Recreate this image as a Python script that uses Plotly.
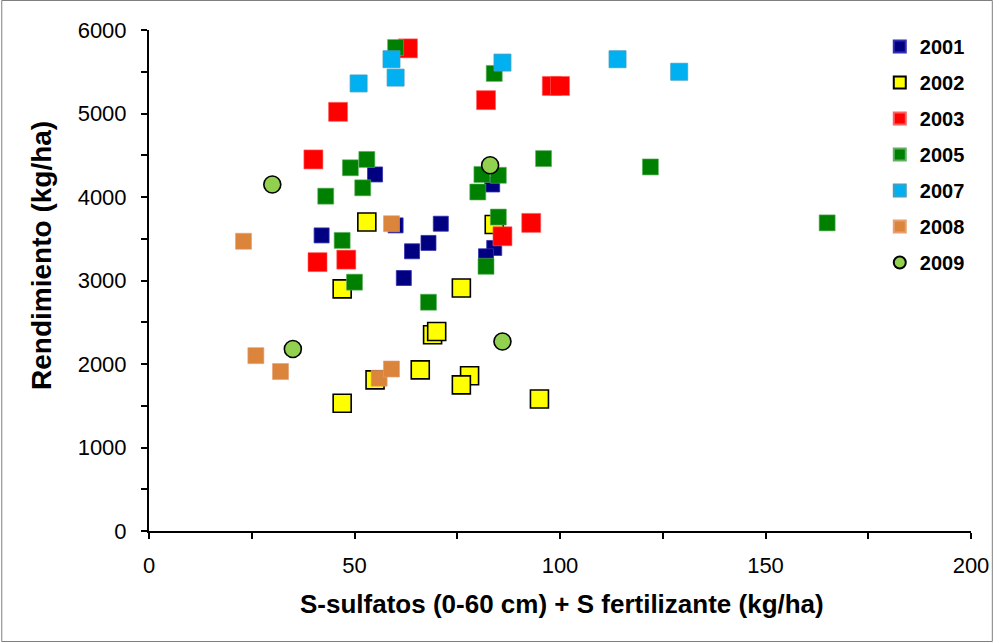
import plotly.graph_objects as go

# ---- data ----
x2001 = [42, 55, 60, 71, 68, 64, 62, 83.5, 84, 82]
y2001 = [3540, 4270, 3660, 3680, 3450, 3350, 3030, 4150, 3390, 3290]

x2002 = [47, 53, 84, 76, 69, 70, 66, 55, 47, 78, 76, 95]
y2002 = [2900, 3700, 3670, 2910, 2350, 2390, 1930, 1810, 1530, 1860, 1750, 1580]

x2003 = [46, 63, 40, 41, 48, 82, 98, 100, 93, 86]
y2003 = [5020, 5780, 4450, 3220, 3250, 5160, 5330, 5330, 3690, 3530]

x2005 = [60, 49, 53, 52, 43, 47, 50, 68, 84, 96, 122, 81, 85, 80, 85, 82, 165]
y2005 = [5790, 4350, 4450, 4110, 4010, 3480, 2980, 2740, 5480, 4460, 4360, 4270, 4260, 4060, 3760, 3170, 3690]

x2007 = [51, 59, 60, 86, 114, 129]
y2007 = [5360, 5650, 5430, 5610, 5650, 5500]

x2008 = [23, 59, 26, 32, 56, 59]
y2008 = [3470, 3680, 2100, 1910, 1830, 1940]

x2009 = [30, 35, 83, 86]
y2009 = [4150, 2180, 4380, 2270]

series = [
    ("2001", x2001, y2001, dict(symbol="square", size=15, color="#000080", line=dict(color="#3030B0", width=0.8))),
    ("2002", x2002, y2002, dict(symbol="square", size=18, color="#FFFF00", line=dict(color="#000000", width=1.6))),
    ("2003", x2003, y2003, dict(symbol="square", size=19, color="#FF0000", line=dict(color="#FF6060", width=0.6))),
    ("2005", x2005, y2005, dict(symbol="square", size=16, color="#008000", line=dict(color="#60B060", width=0.6))),
    ("2007", x2007, y2007, dict(symbol="square", size=17, color="#00B0F0", line=dict(color="#40A0C0", width=0.8))),
    ("2008", x2008, y2008, dict(symbol="square", size=16, color="#DA843C", line=dict(color="#E8A070", width=0.6))),
    ("2009", x2009, y2009, dict(symbol="circle", size=17, color="#92D050", line=dict(color="#000000", width=1.6))),
]

fig = go.Figure()
for name, xs, ys, mk in series:
    fig.add_trace(go.Scatter(x=xs, y=ys, mode="markers", name=name, marker=mk,
                             legendgroup=name, hoverinfo="x+y+name"))

W, H = 1001, 643
L, R, T, B = 149, 23, 30, 112
pw, ph = W - L - R, H - T - B

def px_x(p):
    return (p - L) / pw

def px_y(p):
    return (H - B - p) / ph

font_family = "Liberation Sans, Arial, sans-serif"

fig.update_layout(
    width=W, height=H,
    margin=dict(l=L, r=R, t=T, b=B, pad=0),
    paper_bgcolor="white", plot_bgcolor="white",
    font=dict(family=font_family, color="black"),
    showlegend=True,
    legend=dict(
        x=px_x(886), y=px_y(27), xanchor="left", yanchor="top",
        font=dict(size=20, family=font_family, color="black", weight="bold"),
        itemsizing="constant", tracegroupgap=7, bgcolor="rgba(0,0,0,0)",
    ),
    xaxis=dict(
        range=[0, 200], dtick=50, tick0=0, showgrid=False, zeroline=False,
        showline=True, linecolor="black", linewidth=2,
        ticks="outside", ticklen=6, tickwidth=1.5, tickcolor="black",
        ticklabelstandoff=8,
        tickfont=dict(size=22, family=font_family, color="black"),
        minor=dict(dtick=25, ticks="outside", ticklen=6, tickwidth=1.5, tickcolor="black", showgrid=False),
        fixedrange=True,
    ),
    yaxis=dict(
        range=[0, 6000], dtick=1000, tick0=0, showgrid=False, zeroline=False,
        showline=True, linecolor="black", linewidth=2,
        ticks="outside", ticklen=6, tickwidth=1.5, tickcolor="black",
        ticklabelstandoff=10,
        tickfont=dict(size=22, family=font_family, color="black"),
        minor=dict(dtick=500, ticks="outside", ticklen=6, tickwidth=1.5, tickcolor="black", showgrid=False),
        fixedrange=True,
    ),
    annotations=[
        dict(text="S-sulfatos (0-60 cm) + S fertilizante (kg/ha)", xref="paper", yref="paper",
             x=px_x(566), y=px_y(604), xanchor="center", yanchor="middle", showarrow=False,
             font=dict(size=26, family=font_family, color="black", weight="bold")),
        dict(text="Rendimiento (kg/ha)", xref="paper", yref="paper",
             x=px_x(40), y=px_y(255), xanchor="center", yanchor="middle", showarrow=False,
             textangle=-90,
             font=dict(size=28, family=font_family, color="black", weight="bold")),
    ],
    shapes=[
        dict(type="rect", xref="paper", yref="paper",
             x0=px_x(0.5), x1=px_x(W - 1.5), y0=px_y(H - 1.5), y1=px_y(0.5),
             line=dict(color="#7F7F7F", width=1), fillcolor="rgba(0,0,0,0)", layer="below"),
    ],
)

fig.write_html("out.html")
